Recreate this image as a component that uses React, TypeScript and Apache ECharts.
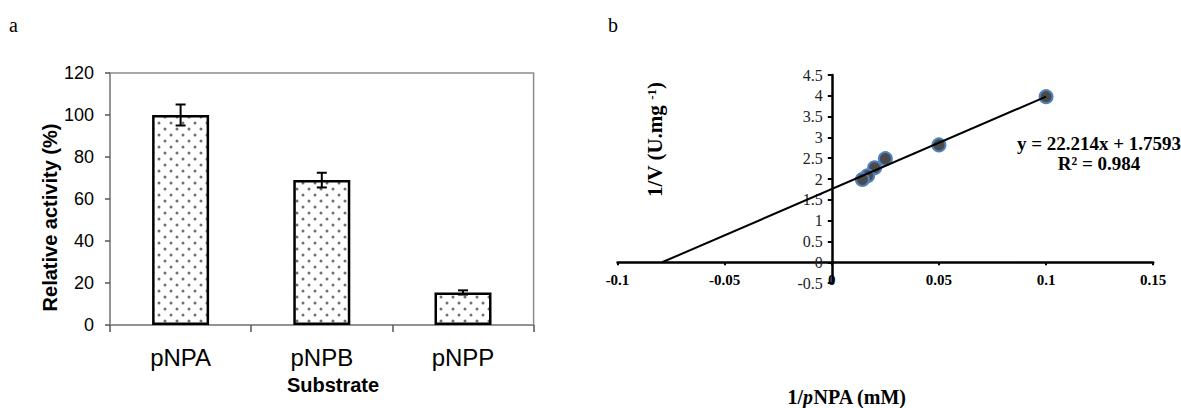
import React, { useEffect, useRef } from "react";
import * as echarts from "echarts";

// Panel a: relative activity by substrate
const substrates = ["pNPA", "pNPB", "pNPP"];
const activity = [100, 69, 15.5];
const activityLow = [95, 65.5, 14.5];
const activityHigh = [105, 72.5, 16.5];
const activityTicks = [0, 20, 40, 60, 80, 100, 120];

// Panel b: Lineweaver-Burk plot
const invS = [0.1, 0.05, 0.025, 0.02, 0.0167, 0.0143];
const invV = [3.98, 2.82, 2.49, 2.27, 2.08, 1.99];
const trendX = [-0.0792, 0.1];
const trendY = [0, 3.981];
const equationLines = ["y = 22.214x + 1.7593", "R² = 0.984"];

const SANS = "Liberation Sans, Arial, sans-serif";
const SERIF = "Liberation Serif, Times New Roman, serif";

export default function App() {
  const ref = useRef<HTMLDivElement>(null);
  useEffect(() => {
    document.body.style.margin = "0";
    if (!ref.current) return;
    const chart = echarts.init(ref.current, null, { renderer: "svg" });

    const c = document.createElement("canvas");
    c.width = 12;
    c.height = 12;
    const ctx = c.getContext("2d")!;
    ctx.fillStyle = "#ffffff";
    ctx.fillRect(0, 0, 12, 12);
    ctx.fillStyle = "#707070";
    ctx.beginPath();
    ctx.arc(3, 3, 1.5, 0, Math.PI * 2);
    ctx.fill();
    ctx.beginPath();
    ctx.arc(9, 9, 1.5, 0, Math.PI * 2);
    ctx.fill();

    const errData = substrates.map((_, i) => [i, activityLow[i], activityHigh[i]]);
    const scatterData = invS.map((x, i) => [x, invV[i]]);
    const trendData = trendX.map((x, i) => [x, trendY[i]]);

    const fmt = (v: number) => String(Number(v.toFixed(3)));

    // grid b geometry
    const gbLeft = 617.5, gbTop = 75, gbW = 535.7, gbH = 208.1;
    const xMin = -0.1, xMax = 0.15, yMin = -0.5, yMax = 4.5;
    const yAxisOffset = -((0 - xMin) / (xMax - xMin)) * gbW;
    const xAxisOffset = -((0 - yMin) / (yMax - yMin)) * gbH;

    chart.setOption({
      animation: false,
      grid: [
        { left: 110, top: 73, width: 423.6, height: 252, show: true, borderColor: "#8c8c8c", borderWidth: 1.5, backgroundColor: "transparent" },
        { left: gbLeft, top: gbTop, width: gbW, height: gbH },
      ],
      xAxis: [
        {
          type: "category",
          gridIndex: 0,
          data: substrates,
          axisLine: { lineStyle: { color: "#8c8c8c", width: 1.5 } },
          axisTick: { show: true, length: 7, lineStyle: { color: "#555", width: 1.5 } },
          axisLabel: { fontFamily: SANS, fontSize: 24, color: "#000", margin: 20 },
        },
        {
          type: "value",
          gridIndex: 1,
          position: "bottom",
          offset: xAxisOffset,
          min: xMin,
          max: xMax,
          interval: 0.05,
          splitLine: { show: false },
          axisLine: { onZero: false, lineStyle: { color: "#000", width: 2.5 } },
          axisTick: { show: true, length: 3, lineStyle: { color: "#000", width: 2 } },
          axisLabel: { fontFamily: SERIF, fontSize: 15, fontWeight: "bold", color: "#000", margin: 10, formatter: fmt },
        },
      ],
      yAxis: [
        {
          type: "value",
          gridIndex: 0,
          min: activityTicks[0],
          max: activityTicks[activityTicks.length - 1],
          interval: 20,
          splitLine: { show: false },
          axisLine: { show: true, lineStyle: { color: "#8c8c8c", width: 1.5 } },
          axisTick: { show: true, length: 5, lineStyle: { color: "#555", width: 1.5 } },
          axisLabel: { fontFamily: SANS, fontSize: 18, color: "#000", margin: 16 },
        },
        {
          type: "value",
          gridIndex: 1,
          position: "left",
          offset: yAxisOffset,
          min: yMin,
          max: yMax,
          interval: 0.5,
          splitLine: { show: false },
          axisLine: { show: true, onZero: false, lineStyle: { color: "#000", width: 2.5 } },
          axisTick: { show: true, length: 4, lineStyle: { color: "#000", width: 2 } },
          axisLabel: { fontFamily: SERIF, fontSize: 16, color: "#222", margin: 9, formatter: fmt },
        },
      ],
      series: [
        {
          type: "bar",
          xAxisIndex: 0,
          yAxisIndex: 0,
          data: activity,
          barWidth: 57,
          itemStyle: {
            color: { image: c, repeat: "repeat", imageWidth: 12, imageHeight: 12 },
            borderColor: "#000",
            borderWidth: 2.5,
          },
        },
        {
          type: "custom",
          xAxisIndex: 0,
          yAxisIndex: 0,
          data: errData,
          encode: { x: 0, y: [1, 2] },
          z: 5,
          renderItem: (params: any, api: any) => {
            const x = api.value(0);
            const lo = api.coord([x, api.value(1)]);
            const hi = api.coord([x, api.value(2)]);
            const cx = lo[0];
            const hw = 5;
            const st = { stroke: "#000", lineWidth: 2 };
            return {
              type: "group",
              children: [
                { type: "line", shape: { x1: cx, y1: lo[1], x2: cx, y2: hi[1] }, style: st },
                { type: "line", shape: { x1: cx - hw, y1: lo[1], x2: cx + hw, y2: lo[1] }, style: st },
                { type: "line", shape: { x1: cx - hw, y1: hi[1], x2: cx + hw, y2: hi[1] }, style: st },
              ],
            };
          },
        },
        {
          type: "scatter",
          xAxisIndex: 1,
          yAxisIndex: 1,
          data: scatterData,
          symbolSize: 13,
          itemStyle: { color: "#4a4a4a", borderColor: "#4f81bd", borderWidth: 2, opacity: 1 },
          z: 3,
        },
        {
          type: "line",
          xAxisIndex: 1,
          yAxisIndex: 1,
          data: trendData,
          symbol: "none",
          lineStyle: { color: "#000", width: 2 },
          z: 4,
        },
      ],
      graphic: [
        { type: "text", x: 9, y: 25, style: { text: "a", fontFamily: SERIF, fontSize: 20, fill: "#000", verticalAlign: "middle" } },
        { type: "text", x: 608, y: 25, style: { text: "b", fontFamily: SERIF, fontSize: 20, fill: "#000", verticalAlign: "middle" } },
        {
          type: "text",
          x: 50,
          y: 217.5,
          rotation: Math.PI / 2,
          style: { text: "Relative activity (%)", fontFamily: SANS, fontWeight: "bold", fontSize: 20, fill: "#000", align: "center", verticalAlign: "middle" },
        },
        {
          type: "text",
          x: 333,
          y: 385,
          style: { text: "Substrate", fontFamily: SANS, fontWeight: "bold", fontSize: 20, fill: "#000", align: "center", verticalAlign: "middle" },
        },
        {
          type: "text",
          x: 655,
          y: 139.5,
          rotation: Math.PI / 2,
          style: {
            text: "{a|1/V (U.mg }{s|-1}{a|)}",
            align: "center",
            verticalAlign: "middle",
            rich: {
              a: { fontFamily: SERIF, fontWeight: "bold", fontSize: 21, fill: "#000", color: "#000" },
              s: { fontFamily: SERIF, fontWeight: "bold", fontSize: 13, fill: "#000", color: "#000", verticalAlign: "top", padding: [0, 0, 8, 0] },
            },
          },
        },
        {
          type: "text",
          x: 847,
          y: 397,
          style: {
            text: "{a|1/}{i|p}{a|NPA (mM)}",
            align: "center",
            verticalAlign: "middle",
            rich: {
              a: { fontFamily: SERIF, fontWeight: "bold", fontSize: 20, fill: "#000", color: "#000" },
              i: { fontFamily: SERIF, fontWeight: "bold", fontStyle: "italic", fontSize: 20, fill: "#000", color: "#000" },
            },
          },
        },
        {
          type: "text",
          x: 1099,
          y: 153.5,
          style: {
            text: equationLines.join("\n"),
            fontFamily: SERIF,
            fontWeight: "bold",
            fontSize: 19,
            lineHeight: 20,
            fill: "#000",
            align: "center",
            verticalAlign: "middle",
          },
        },
      ],
    });
    return () => chart.dispose();
  }, []);
  return <div ref={ref} style={{ width: 1181, height: 408 }} />;
}
